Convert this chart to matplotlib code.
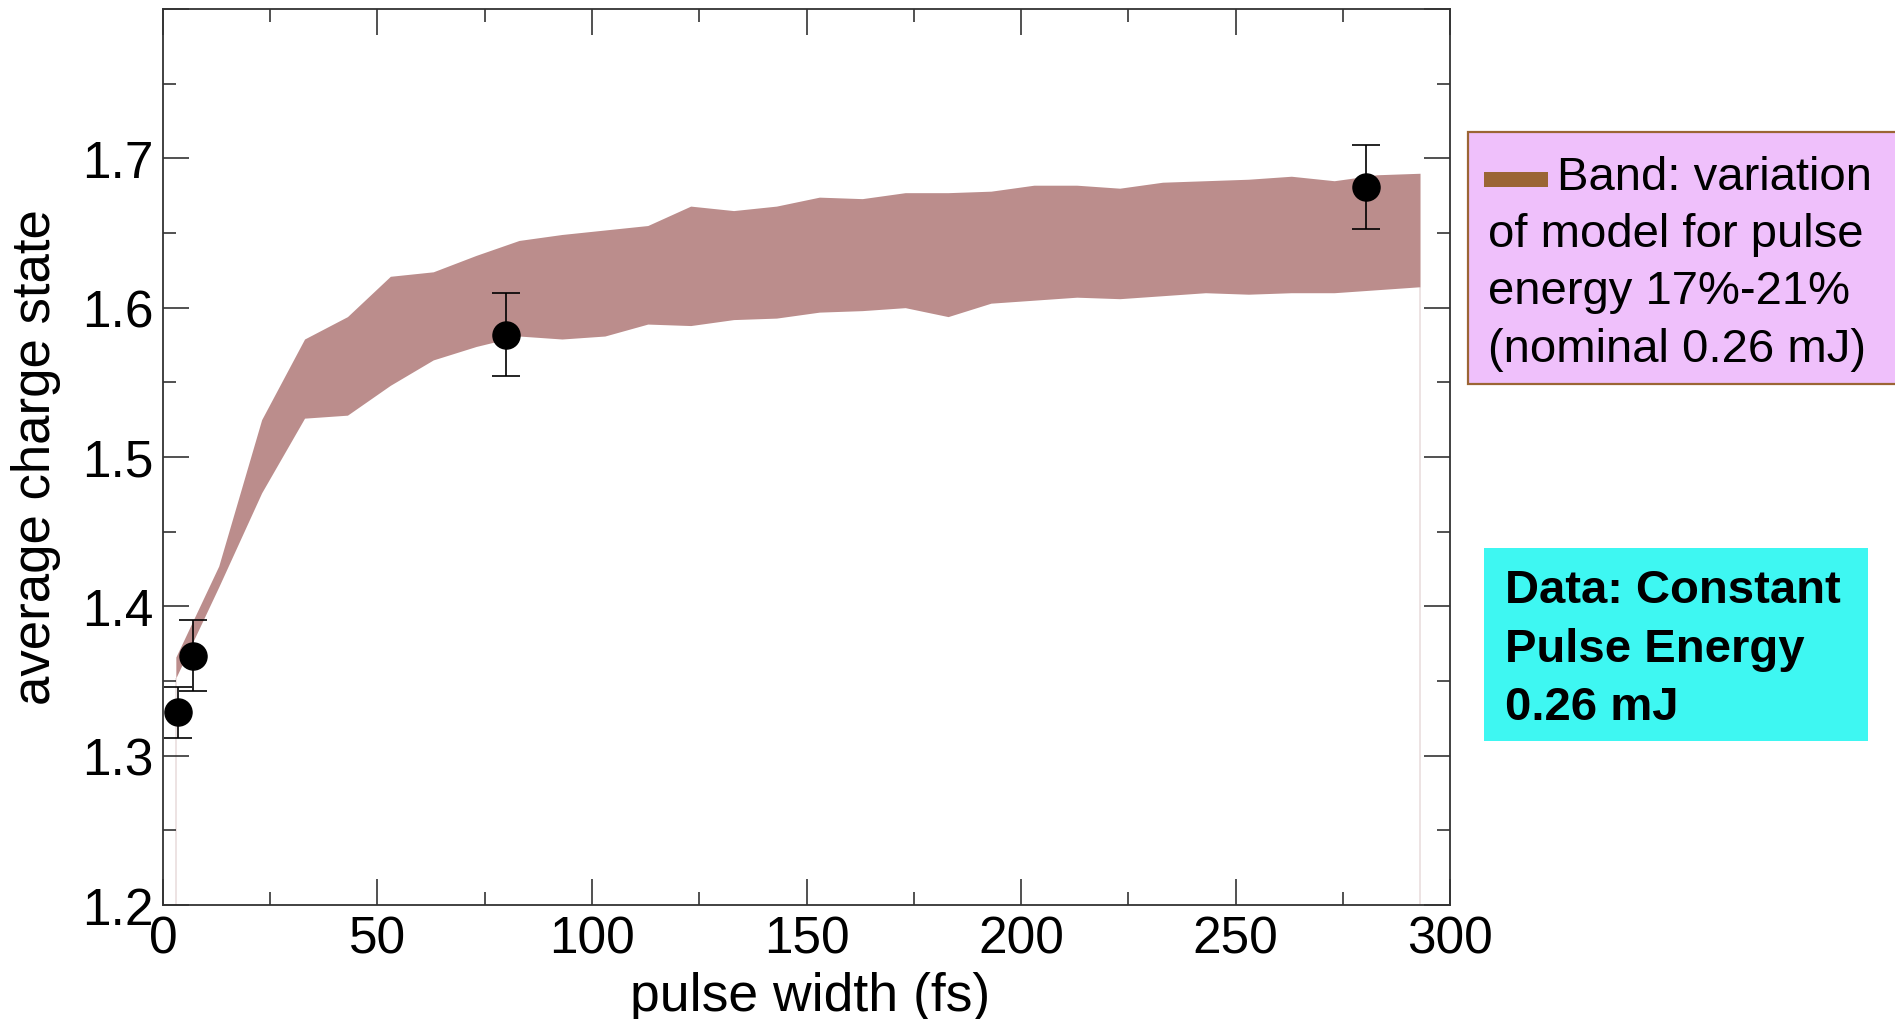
import numpy as np
import matplotlib.pyplot as plt
from matplotlib.patches import Rectangle

plt.rcParams['font.family'] = ['Liberation Sans', 'DejaVu Sans']

# measured data points (pulse width in fs, average charge state, error)
data_x = [3.4, 7.0, 80.0, 280.4]
data_y = [1.329, 1.367, 1.582, 1.681]
data_err = [0.017, 0.024, 0.028, 0.028]

# model band (upper / lower edge)
band_x = [3, 13, 23, 33, 43, 53, 63, 73, 83, 93, 103, 113, 123, 133, 143,
          153, 163, 173, 183, 193, 203, 213, 223, 233, 243, 253, 263, 273, 283, 293]
band_hi = [1.366, 1.427, 1.525, 1.579, 1.594, 1.621, 1.624, 1.635, 1.645, 1.649,
           1.652, 1.655, 1.668, 1.665, 1.668, 1.674, 1.673, 1.677, 1.677, 1.678,
           1.682, 1.682, 1.680, 1.684, 1.685, 1.686, 1.688, 1.685, 1.689, 1.690]
band_lo = [1.352, 1.413, 1.476, 1.526, 1.528, 1.548, 1.565, 1.574, 1.581, 1.579,
           1.581, 1.589, 1.588, 1.592, 1.593, 1.597, 1.598, 1.600, 1.594, 1.603,
           1.605, 1.607, 1.606, 1.608, 1.610, 1.609, 1.610, 1.610, 1.612, 1.614]

x_ticks = [0, 50, 100, 150, 200, 250, 300]
y_ticks = [1.2, 1.3, 1.4, 1.5, 1.6, 1.7, 1.8]
y_ticklabels = ['1.2', '1.3', '1.4', '1.5', '1.6', '1.7', '']

fig = plt.figure(figsize=(18.95, 10.2), dpi=100)
ax = fig.add_axes([0.0860, 0.1118, 0.6792, 0.8784])

# band and its faint edge lines
ax.fill_between(band_x, band_lo, band_hi, color='#bb8d8c', lw=0, zorder=2)
ax.vlines([band_x[0], band_x[-1]], 1.2, [band_lo[0], band_lo[-1]],
          color='#eadede', lw=1.2, zorder=1)

# data points with error bars
ax.errorbar(data_x, data_y, yerr=data_err, fmt='o', color='black',
            markersize=19.5, ecolor='black', elinewidth=1.2, capsize=10,
            capthick=1.2, zorder=5)

ax.set_xlim(0, 300)
ax.set_ylim(1.2, 1.8)
ax.set_xticks(x_ticks)
ax.set_xticks(np.arange(25, 300, 50), minor=True)
ax.set_yticks(y_ticks)
ax.set_yticklabels(y_ticklabels)
ax.set_yticks(np.arange(1.25, 1.8, 0.1), minor=True)

ax.tick_params(which='both', direction='in', top=True, right=True,
               width=1.1, color='#222222', labelsize=37)
ax.tick_params(which='major', length=19)
ax.tick_params(which='minor', length=9.5)
ax.tick_params(axis='x', pad=7)
ax.tick_params(axis='y', pad=7)
for s in ax.spines.values():
    s.set_color('#333333')
    s.set_linewidth(1.3)

fig.text(810 / 1895, 1 - 1011 / 1020, 'pulse width (fs)', fontsize=38.5,
         ha='center', va='baseline')
fig.text(36 / 1895, 1 - 457 / 1020, 'average charge state', fontsize=38,
         ha='center', va='center', rotation=90)

# legend box for the band
W, H = 1895.0, 1020.0
fig.patches.append(Rectangle((1468 / W, 1 - 385 / H), 460 / W, 252 / H,
                             transform=fig.transFigure, facecolor='#efc0fb',
                             edgecolor='#9b6534', lw=1.6, zorder=1))
fig.patches.append(Rectangle((1484 / W, 1 - 188 / H), 64 / W, 15 / H,
                             transform=fig.transFigure, facecolor='#9b6534',
                             edgecolor='none', zorder=2))
fig.text(1557 / W, 1 - 190 / H, 'Band: variation', fontsize=34, va='baseline')
band_lines = ['of model for pulse', 'energy 17%-21%', '(nominal 0.26 mJ)']
for i, line in enumerate(band_lines):
    fig.text(1488 / W, 1 - (247 + 57.5 * i) / H, line, fontsize=34, va='baseline')

# data box
fig.patches.append(Rectangle((1484 / W, 1 - 742 / H), 384 / W, 193 / H,
                             transform=fig.transFigure, facecolor='#3ef7f2',
                             edgecolor='none', zorder=1))
data_lines = ['Data: Constant', 'Pulse Energy', '0.26 mJ']
for i, line in enumerate(data_lines):
    fig.text(1505 / W, 1 - (603 + 58.5 * i) / H, line, fontsize=34,
             fontweight='bold', va='baseline')

fig.savefig('out.png', dpi=100)
